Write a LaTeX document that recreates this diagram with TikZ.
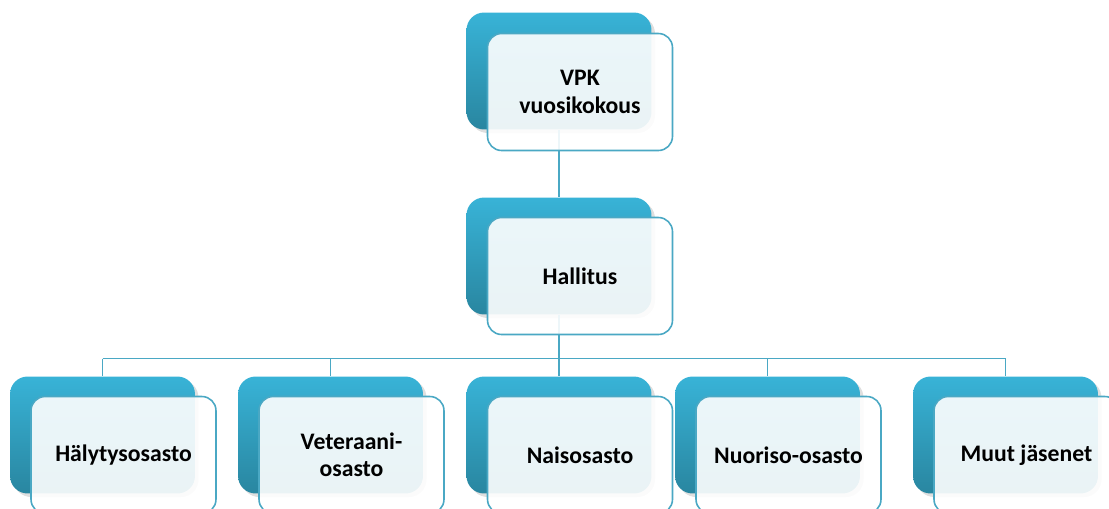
\documentclass[tikz,border=0pt]{standalone}
\usepackage{fontspec}
\setmainfont{Carlito}
\usepackage{xcolor}
\usepackage{tikz}
\usetikzlibrary{shadows}
\definecolor{SiniYla}{RGB}{56,179,215}
\definecolor{SiniAla}{RGB}{41,134,160}
\definecolor{ReunaSini}{RGB}{74,168,196}

\begin{document}
\begin{tikzpicture}[x=0.02cm,y=-0.02cm,
  takalaatikko/.style={rectangle,rounded corners=10pt,minimum width=3.7cm,minimum height=2.34cm,
    top color=SiniYla,bottom color=SiniAla,draw=none,
    drop shadow={shadow xshift=2pt,shadow yshift=-2pt,opacity=0.25}},
  etulaatikko/.style={rectangle,rounded corners=8pt,minimum width=3.7cm,minimum height=2.34cm,
    draw=ReunaSini,line width=0.9pt,fill=white,fill opacity=0.9,text opacity=1,
    align=center,font=\fontsize{13.5}{15.5}\selectfont\bfseries},
  yhteys/.style={draw=ReunaSini,line width=1.1pt}]
  \useasboundingbox (0,0) rectangle (1109,508);
  \clip (0,0) rectangle (1109,508);
  % takalaatikot
  \node[takalaatikko] (vpkb) at (559,71) {};
  \node[takalaatikko] (hallb) at (559,256) {};
  \node[takalaatikko] (halyb) at (102.5,435) {};
  \node[takalaatikko] (vetb) at (330.5,435) {};
  \node[takalaatikko] (naisb) at (559,435) {};
  \node[takalaatikko] (nuorb) at (767.5,435) {};
  \node[takalaatikko] (muutb) at (1005.5,435) {};
  % yhteydet
  \coordinate (vayla) at (559,358.5);
  \draw[yhteys] (vpkb.south) -- (hallb.north);
  \draw[yhteys] (hallb.south) -- (vayla);
  \draw[yhteys] (vayla -| halyb.north) -- (vayla -| muutb.north);
  \foreach \b in {halyb,vetb,naisb,nuorb,muutb}
    \draw[yhteys] (vayla -| \b.north) -- (\b.north);
  % etulaatikot
  \node[etulaatikko] (vpk) at (580,92) {VPK\\vuosikokous};
  \node[etulaatikko] (hall) at (580,276) {Hallitus};
  \node[etulaatikko] (haly) at (123.5,455) {Hälytysosasto};
  \node[etulaatikko] (vet) at (351.5,455) {Veteraani-\\osasto};
  \node[etulaatikko] (nais) at (580,455) {Naisosasto};
  \node[etulaatikko] (nuor) at (788.5,455) {Nuoriso-osasto};
  \node[etulaatikko] (muut) at (1026.5,455) {Muut jäsenet};
\end{tikzpicture}
\end{document}
